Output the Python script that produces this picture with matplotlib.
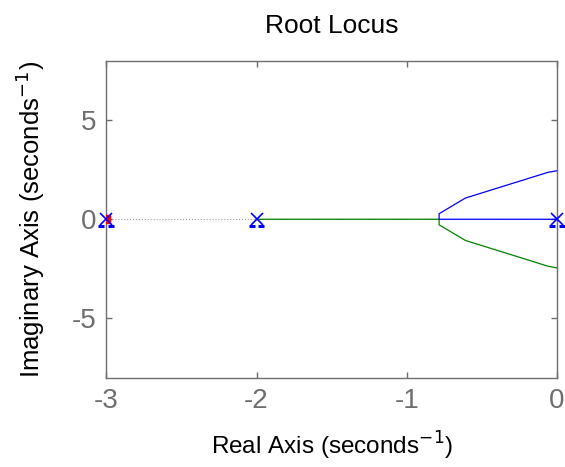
import numpy as np
import matplotlib.pyplot as plt
import matplotlib.transforms as mtransforms

plt.rcParams['font.family'] = ['Liberation Sans', 'DejaVu Sans']

# open-loop poles
poles = [-3.0, -2.0, 0.0]

# branch from pole at 0 (upper complex branch)
blue_x = [0.0, -0.785, -0.785, -0.61, -0.06, 0.0]
blue_y = [0.0, 0.0, 0.28, 1.07, 2.37, 2.45]

# branch from pole at -2 (lower complex branch)
green_x = [-2.0, -0.785, -0.785, -0.61, -0.06, 0.0]
green_y = [0.0, 0.0, -0.28, -1.07, -2.37, -2.46]

# branch from pole at -3 heading to -inf
red_x = [-3.0, -3.5]
red_y = [0.0, 0.0]

grey = '#6e6e6e'

fig = plt.figure(figsize=(5.65, 4.67), dpi=100)
ax = fig.add_axes([0.188, 0.191, 0.798, 0.679])

ax.plot([-3, 0], [0, 0], ls=':', color='#9a9a9a', lw=0.8, zorder=1)
ax.plot(green_x, green_y, color='#008000', lw=0.9, zorder=2)
ax.plot(blue_x, blue_y, color='#0000ff', lw=0.9, zorder=3)
ax.plot(red_x, red_y, color='red', lw=0.9, zorder=3)
ax.plot(red_x[:1], red_y[:1], marker='s', ms=6, color='red', ls='none', zorder=4)

ax.plot(poles, [0] * len(poles), marker='x', ms=8, mew=1.2, color='#0000ff',
        ls='none', zorder=5, clip_on=False)
# small dashes under the pole markers (rendering artefacts in the original)
for dx in (-3.5, 3.5):
    tr = mtransforms.offset_copy(ax.transData, fig=fig, x=dx, y=-5, units='points')
    ax.plot(poles, [0] * len(poles), marker='_', ms=4, mew=2.2, color='#0000ff',
            ls='none', transform=tr, zorder=5, clip_on=False)

ax.set_xlim(-3, 0)
ax.set_ylim(-8, 8)
ax.set_xticks([-3, -2, -1, 0])
ax.set_xticklabels(['-3', '-2', '-1', '0'])
ax.set_yticks([-5, 0, 5])
ax.set_yticklabels(['-5', '0', '5'])
ax.tick_params(direction='in', length=4, width=1, colors=grey, labelsize=20,
               top=True, right=True, pad=7)
for sp in ax.spines.values():
    sp.set_color(grey)
    sp.set_linewidth(1.0)

ax.set_title('Root Locus', fontsize=19, color='black', pad=20)
ax.set_xlabel('Real Axis (seconds$^{-1}$)', fontsize=17.5, color='black', labelpad=12)
ax.set_ylabel('Imaginary Axis (seconds$^{-1}$)', fontsize=18.5, color='black', labelpad=18)

fig.savefig('out.png', dpi=100)
